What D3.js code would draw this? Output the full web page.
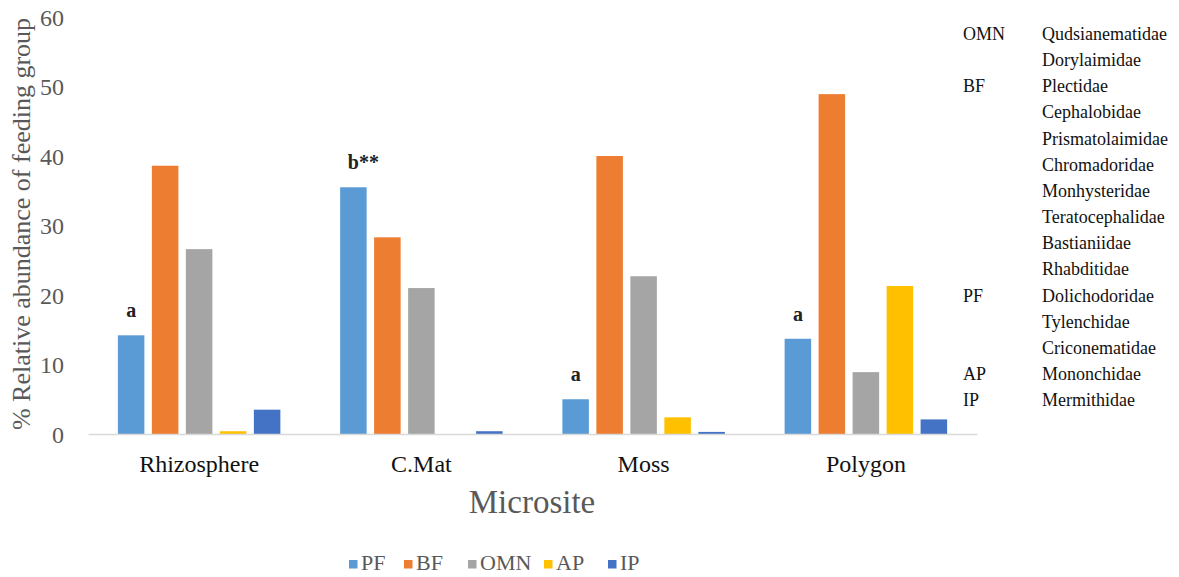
<!DOCTYPE html>
<html><head><meta charset="utf-8">
<script src="https://cdn.jsdelivr.net/npm/d3@7"></script>
<style>body{margin:0;background:#fff}svg{display:block;font-family:"Liberation Serif","Times New Roman",serif}</style>
</head><body><svg id="c" width="1179" height="577"></svg>
<script>
const categories = ["Rhizosphere","C.Mat","Moss","Polygon"];
const seriesNames = ["PF","BF","OMN","AP","IP"];
const PF  = [14.2, 35.5, 5.0, 13.7];
const BF  = [38.6, 28.3, 40.0, 48.9];
const OMN = [26.6, 21.0, 22.7, 8.9];
const AP  = [0.4, 0.0, 2.4, 21.3];
const IP  = [3.5, 0.4, 0.3, 2.1];
const seriesValues = [PF, BF, OMN, AP, IP];
const colors = ["#5b9bd5","#ed7d31","#a5a5a5","#ffc000","#4472c4"];
const yTicks = [0,10,20,30,40,50,60];
const sigLabels = ["a","b**","a","a"];
const tableGroups = ["OMN","","BF","","","","","","","","PF","","","AP","IP"];
const tableFamilies = ["Qudsianematidae","Dorylaimidae","Plectidae","Cephalobidae","Prismatolaimidae","Chromadoridae","Monhysteridae","Teratocephalidae","Bastianiidae","Rhabditidae","Dolichodoridae","Tylenchidae","Criconematidae","Mononchidae","Mermithidae"];

const svg = d3.select("#c");
const mLeft = 88, mRight = 977, mTop = 17, mBottom = 434;
const groupW = 162.5;
const x0 = d3.scaleBand().domain(categories).range([mLeft, mRight]).paddingInner(0).paddingOuter(0);
const x1 = d3.scaleBand().domain(seriesNames).range([0, groupW]).paddingInner(0.22).paddingOuter(0);
const y = d3.scaleLinear().domain([0,60]).range([mBottom, mTop]);
const groupOffset = (x0.bandwidth() - groupW) / 2;

// y tick labels
const yAxis = d3.axisLeft(y).tickValues(yTicks).tickSize(0).tickPadding(0).tickFormat(d3.format("d"));
const ya = svg.append("g").attr("transform", `translate(${mLeft-24},0)`).call(yAxis);
ya.select(".domain").remove();
ya.selectAll("text").attr("font-size", 24).attr("fill", "#595959").attr("font-family", "Liberation Serif").attr("dy", "0.35em");

// bars
const g = svg.append("g");
categories.forEach((c, ci) => {
  seriesNames.forEach((s, si) => {
    const v = seriesValues[si][ci];
    if (v <= 0) return;
    g.append("rect")
      .attr("x", x0(c) + groupOffset + x1(s))
      .attr("width", x1.bandwidth())
      .attr("y", y(v))
      .attr("height", y(0) - y(v))
      .attr("fill", colors[si]);
  });
  g.append("text")
    .attr("x", x0(c) + groupOffset + x1("PF") + x1.bandwidth()/2 + (sigLabels[ci].length > 1 ? 10 : 0))
    .attr("y", y(PF[ci]) - 18)
    .attr("text-anchor", "middle")
    .attr("font-size", 20)
    .attr("fill", "#222")
    .attr("font-weight", "bold")
    .text(sigLabels[ci]);
});

// x axis
const xAxis = d3.axisBottom(x0).tickSize(0).tickPadding(0);
const xa = svg.append("g").attr("transform", `translate(0,${mBottom})`).call(xAxis);
xa.select(".domain").attr("stroke", "#d9d9d9").attr("stroke-width", 1.5);
xa.selectAll("text").attr("font-size", 24).attr("fill", "#111").attr("font-family", "Liberation Serif").attr("dy", "0").attr("y", 38);

// axis titles
svg.append("text").attr("x", 532).attr("y", 513).attr("text-anchor", "middle")
  .attr("font-size", 33).attr("fill", "#595959").text("Microsite");
svg.append("text").attr("transform", "translate(30,224) rotate(-90)").attr("text-anchor", "middle")
  .attr("font-size", 26).attr("fill", "#595959").text("% Relative abundance of feeding group");

// legend
const legX = [349, 404, 468, 544, 608];
const lg = svg.append("g");
seriesNames.forEach((s, i) => {
  lg.append("rect").attr("x", legX[i]).attr("y", 560).attr("width", 8.5).attr("height", 8.5).attr("fill", colors[i]);
  lg.append("text").attr("x", legX[i] + 12).attr("y", 570).attr("font-size", 22).attr("fill", "#595959").text(s);
});

// right table
const tg = svg.append("g");
tableFamilies.forEach((f, i) => {
  const yy = 40 + i * 26.15;
  if (tableGroups[i]) tg.append("text").attr("x", 963).attr("y", yy).attr("font-size", 18).attr("fill", "#111").text(tableGroups[i]);
  tg.append("text").attr("x", 1042).attr("y", yy).attr("font-size", 18).attr("fill", "#111").text(f);
});
</script></body></html>
